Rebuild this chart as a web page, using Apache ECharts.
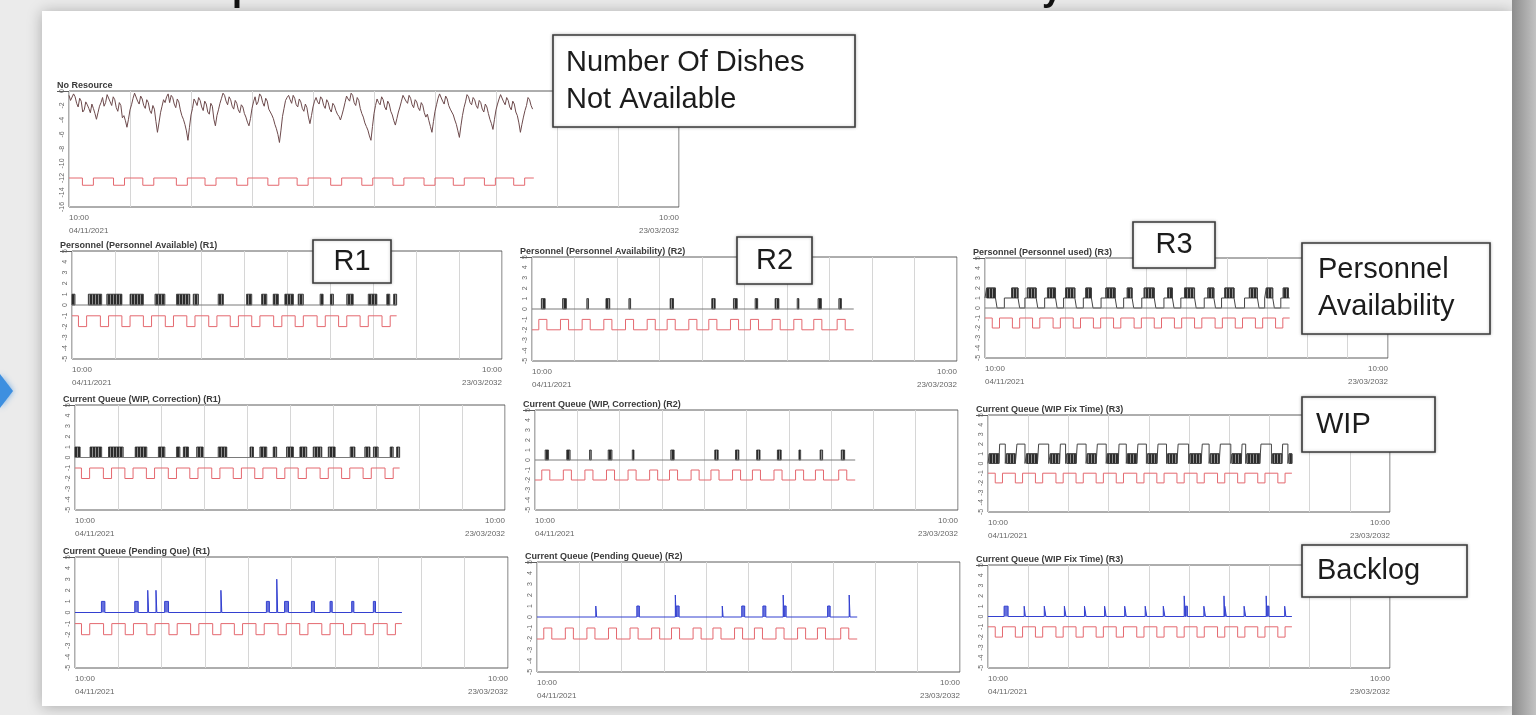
<!DOCTYPE html>
<html>
<head>
<meta charset="utf-8">
<script src="https://cdn.jsdelivr.net/npm/echarts/dist/echarts.min.js"></script>
<style>
html,body{margin:0;padding:0;background:#ebebeb;overflow:hidden;}
#c{width:1536px;height:715px;}
</style>
</head>
<body>
<div id="c"></div>
<script>
// ---------------- DATA ----------------
const chartTitles = [
  'No Resource',
  'Personnel (Personnel Available) (R1)',
  'Personnel (Personnel Availability) (R2)',
  'Personnel (Personnel used) (R3)',
  'Current Queue (WIP, Correction) (R1)',
  'Current Queue (WIP, Correction) (R2)',
  'Current Queue (WIP Fix Time) (R3)',
  'Current Queue (Pending Que) (R1)',
  'Current Queue (Pending Queue) (R2)',
  'Current Queue (WIP Fix Time) (R3)'
];
const xStartLabel = '10:00\n04/11/2021';
const xEndLabel = '10:00\n23/03/2032';
const annotationTexts = ['Number Of Dishes\nNot Available', 'R1', 'R2', 'R3', 'Personnel\nAvailability', 'WIP', 'Backlog'];
const headingFragments = ['p', 'y'];

// "No Resource" dark trace, one value every 0.25 time units from 0
const noResourceStep = 0.25;
const noResource = [
  -0.6,-1.3,-1.5,-0.4,-0.8,-1.7,-2.2,-1.0,-1.4,-2.9,-2.6,-1.5,-1.9,-2.4,-3.0,-1.8,-2.4,-3.1,-3.9,
  -3.0,-2.1,-1.6,-0.9,-2.1,-1.6,-0.5,-0.7,-1.5,-2.0,-0.8,-1.2,-2.3,-2.8,-1.6,-2.0,-3.7,-3.4,-4.1,-5.0,
  -3.9,-2.6,-1.9,-1.0,-0.3,-0.5,-1.4,-1.8,-0.7,-1.1,-2.0,-2.4,-1.2,-1.6,-2.7,-3.1,-2.0,-2.5,-4.2,-5.7,
  -4.4,-3.0,-2.1,-1.2,-1.6,-0.8,-0.4,-1.6,-0.6,-0.9,-1.8,-2.3,-1.1,-1.5,-2.6,-3.4,-3.9,-4.6,-5.5,-6.8,
  -5.0,-3.3,-2.4,-1.1,-1.5,-2.0,-0.9,-1.3,-2.2,-2.7,-1.4,-1.8,-2.9,-3.2,-1.7,-2.1,-3.9,-4.8,-3.4,-2.6,
  -1.7,-1.0,-0.3,-0.6,-1.4,-1.9,-0.8,-1.2,-2.1,-2.5,-1.3,-1.7,-2.6,-3.0,-1.9,-2.2,-3.1,-3.6,-4.3,-4.8,
  -3.8,-2.4,-1.5,-0.8,-1.9,-1.5,-0.4,-0.7,-1.6,-2.1,-1.0,-1.4,-2.5,-2.9,-3.3,-3.8,-4.6,-5.2,-6.0,-7.1,
  -5.4,-3.5,-2.4,-1.3,-0.9,-0.6,-1.2,-1.7,-0.6,-1.0,-1.9,-2.2,-1.1,-1.5,-2.4,-2.8,-1.8,-2.3,-3.6,-4.5,
  -3.4,-2.2,-1.4,-0.9,-1.5,-1.8,-0.8,-1.1,-2.0,-2.4,-1.2,-1.6,-2.5,-2.9,-1.7,-2.0,-2.7,-3.2,-3.5,-4.0,
  -3.3,-2.5,-1.6,-0.7,-1.1,-1.4,-0.3,-0.6,-1.6,-2.0,-0.9,-1.3,-2.4,-3.1,-3.6,-4.4,-4.9,-5.4,-6.2,-6.8,
  -4.9,-3.1,-2.0,-1.1,-1.6,-1.9,-0.8,-1.2,-2.2,-2.6,-1.4,-1.8,-2.8,-3.3,-4.1,-4.7,-3.8,-2.9,-2.2,-1.4,
  -0.6,-0.8,-1.4,-1.7,-0.6,-1.0,-1.9,-2.3,-1.2,-1.5,-2.3,-2.7,-1.6,-2.0,-3.0,-3.6,-3.2,-4.1,-4.9,-5.7,
  -4.2,-2.8,-1.9,-1.0,-0.4,-0.6,-1.4,-1.8,-0.7,-1.1,-2.0,-2.5,-2.9,-3.3,-4.0,-4.6,-5.5,-6.4,-4.8,-3.4,
  -2.3,-1.5,-0.5,-0.8,-1.6,-1.9,-0.9,-1.2,-2.0,-2.4,-1.3,-1.6,-2.5,-2.9,-1.8,-2.2,-3.1,-3.9,-4.5,-5.3,
  -3.9,-2.6,-1.8,-1.1,-0.5,-0.7,-1.5,-1.9,-0.9,-1.3,-2.2,-2.6,-1.4,-1.8,-2.9,-3.4,-4.4,-5.7,-4.6,-3.6,
  -2.7,-2.0,-0.9,-1.2,-2.0,-2.5
];

// red shift signal: [start, end] of each dip / pulse
const topRedDips = [[2.2,4.0],[7.3,9.1],[12.1,13.9],[17.6,19.4],[22.3,24.1],[27.5,29.3],[32.6,34.4],[37.4,39.2],[42.9,44.7],[48.0,49.8],[53.1,54.9],[58.2,60.0],[63.0,64.8],[68.1,69.9],[72.9,74.7]];
const topRedLevels = [-12, -13];
const r1RedDips = [[1.5,3.4],[6.6,8.5],[11.6,13.5],[16.6,18.5],[21.7,23.6],[26.7,28.6],[31.8,33.7],[36.8,38.7],[41.8,43.7],[46.9,48.8],[51.9,53.8],[57.0,58.9],[62.0,63.9],[67.0,68.9],[72.1,74.0]];
const r2RedPulses = [[1.6,3.5],[6.7,8.6],[11.8,13.7],[16.9,18.8],[22.0,23.9],[27.1,29.0],[31.8,33.7],[36.9,38.8],[41.6,43.5],[46.7,48.6],[51.4,53.3],[56.5,58.4],[61.6,63.5],[66.3,68.2],[71.8,73.7]];
const r3RedDips = [[1.8,3.6],[6.8,8.6],[11.8,13.6],[16.9,18.7],[21.9,23.7],[26.9,28.7],[31.9,33.7],[37.0,38.8],[42.0,43.8],[47.0,48.8],[52.0,53.8],[57.1,58.9],[62.1,63.9],[67.1,68.9],[72.1,73.9]];
const redLevelsDip = [-1, -2];    // base, dip
const redLevelsPulse = [-2, -1];  // base, pulse

// time at which each trace stops
const dataEnd = {top: 76.2, r1: 75.5, r2: 75.7, r3: 75.6};

// black busy blocks (value 1) : [start, end]
const r1PersonnelBlocks = [[0,0.7],[3.8,6.9],[8.1,11.6],[13.5,16.6],[19.3,21.6],[24.3,27.4],[28.2,29.4],[34.0,35.2],[40.6,41.8],[44.1,45.3],[46.8,48.0],[49.5,51.5],[52.6,53.8],[57.7,58.4],[60.1,60.8],[63.9,65.4],[68.9,70.9],[73.2,73.9],[74.8,75.5]];
const r1WipBlocks = [[0,1.2],[3.5,6.2],[7.8,11.2],[14.0,16.7],[19.4,20.9],[23.6,24.4],[25.2,26.4],[28.3,29.8],[33.3,35.3],[40.7,41.5],[43.0,44.6],[46.1,46.9],[49.2,50.8],[52.3,53.9],[55.4,57.4],[58.9,60.5],[64.0,65.1],[67.4,68.6],[69.4,70.5],[73.3,74.0],[74.8,75.5]];
const r2PersonnelBlocks = [[2.2,3.1],[7.2,8.1],[12.9,13.3],[17.4,18.3],[22.8,23.2],[32.5,33.3],[42.3,43.1],[47.4,48.3],[52.5,53.1],[57.2,58.1],[62.4,62.8],[67.3,68.1],[72.2,72.8]];
const r2WipBlocks = [[2.4,3.2],[7.5,8.3],[12.9,13.3],[17.3,18.2],[23.0,23.4],[32.1,32.9],[42.5,43.3],[47.4,48.2],[52.4,53.2],[57.3,58.2],[62.4,62.8],[67.4,68.0],[72.4,73.2]];

// R3 personnel: dark bands between 1 and 2, drops to 0 after them
const r3PersonnelBands = [[0.4,2.6],[6.6,8.2],[10.5,12.7],[15.5,17.5],[20.0,22.3],[25.0,26.4],[30.0,32.3],[35.3,36.5],[39.5,42.0],[45.3,46.5],[49.5,52.0],[55.3,56.8],[59.5,61.8],[65.6,67.6],[69.8,71.4],[74.0,75.3]];
const r3PersonnelDrops = [[3.0,4.8],[8.6,9.9],[13.1,14.8],[17.9,19.5],[22.7,24.4],[26.8,28.8],[32.7,34.4],[36.9,38.9],[42.4,44.4],[46.9,48.6],[52.4,54.4],[57.2,58.7],[62.2,64.4],[68.0,69.4],[71.8,73.4]];
// R3 WIP: dark bands between 0 and 1, pulses up to 2
const r3WipBands = [[0.3,2.7],[4.6,6.8],[9.6,12.3],[15.5,17.8],[19.6,21.9],[24.7,26.9],[29.7,32.4],[34.7,37.0],[39.7,42.0],[44.7,47.0],[50.2,53.0],[55.3,57.5],[60.7,63.0],[64.4,67.6],[70.8,73.1],[74.9,75.6]];
const r3WipPulses = [[2.9,4.3],[7.2,9.2],[12.6,15.1],[18.0,19.3],[22.2,24.4],[27.2,29.4],[32.6,34.4],[37.3,39.4],[42.3,44.4],[47.3,49.9],[53.3,55.0],[57.8,60.4],[63.2,64.1],[67.9,70.5],[73.3,74.6]];

// blue backlog spikes: [start, end, height]
const r1Backlog = [[6.1,6.9,1],[13.8,14.6,1],[16.8,17.0,2],[18.7,18.9,2],[20.7,21.6,1],[33.7,33.9,2],[44.2,44.9,1],[46.6,46.8,3],[48.4,49.3,1],[54.6,55.3,1],[58.9,59.4,1],[63.9,64.4,1],[68.9,69.4,1]];
const r2Backlog = [[13.9,14.1,1],[23.6,24.2,1],[32.7,32.9,2],[32.9,33.6,1],[43.8,44.0,1],[48.4,49.1,1],[53.4,54.1,1],[58.2,58.4,2],[58.4,58.9,1],[68.7,69.3,1],[73.8,74.0,2]];
const r3Backlog = [[4.0,5.0,1],[9.0,9.3,1],[14.0,14.4,1],[19.0,19.4,1],[24.0,24.4,1],[29.0,29.4,1],[34.0,34.4,1],[39.1,39.5,1],[43.6,44.0,1],[48.8,49.1,2],[49.1,49.6,1],[53.7,54.1,1],[58.7,58.9,2],[58.9,59.3,1],[63.7,64.1,1],[69.2,69.4,2],[69.4,69.9,1],[73.8,74.1,1]];

// ---------------- LAYOUT / STYLE ----------------
const panels = [
  {left:69,  top:91,  width:610, height:116, yMin:-16, yMax:0, yInt:2},
  {left:72,  top:251, width:430, height:108, yMin:-5, yMax:5, yInt:1},
  {left:532, top:257, width:425, height:104, yMin:-5, yMax:5, yInt:1},
  {left:985, top:258, width:403, height:100, yMin:-5, yMax:5, yInt:1},
  {left:75,  top:405, width:430, height:105, yMin:-5, yMax:5, yInt:1},
  {left:535, top:410, width:423, height:100, yMin:-5, yMax:5, yInt:1},
  {left:988, top:415, width:402, height:97,  yMin:-5, yMax:5, yInt:1},
  {left:75,  top:557, width:433, height:111, yMin:-5, yMax:5, yInt:1},
  {left:537, top:562, width:423, height:110, yMin:-5, yMax:5, yInt:1},
  {left:988, top:565, width:402, height:103, yMin:-5, yMax:5, yInt:1}
];
const RED = '#e4686f', BLUE = '#3340d0', ZERO = '#7a7a7a';
const FONT = '"Liberation Sans", Arial, sans-serif';

// hatched fill for the dense busy blocks
const hatch = document.createElement('canvas');
hatch.width = 3; hatch.height = 2;
(function () {
  const g = hatch.getContext('2d');
  g.fillStyle = '#2c2c2c'; g.fillRect(0, 0, 3, 2);
  g.fillStyle = '#8e8e8e'; g.fillRect(2, 0, 1, 2);
})();
const DARK = {image: hatch, repeat: 'repeat'};

// ---------------- helpers ----------------
function redPoints(dips, levels, end) {
  const [base, alt] = levels;
  const pts = [[0, base]];
  dips.forEach(d => { pts.push([d[0], base], [d[0], alt], [d[1], alt], [d[1], base]); });
  pts.push([end, base]);
  return pts;
}
function levelTrace(segs, base, end) {
  const s = segs.slice().sort((a, b) => a[0] - b[0]);
  const pts = [[0, base]];
  s.forEach(g => { pts.push([g[0], base], [g[0], g[2]], [g[1], g[2]], [g[1], base]); });
  pts.push([end, base]);
  return pts;
}
function lineSeries(i, data, color, width, area) {
  const s = {
    type: 'line', xAxisIndex: i, yAxisIndex: i, data: data, showSymbol: false, symbol: 'none',
    lineStyle: {color: color, width: width || 1}, silent: true, animation: false, z: 3
  };
  if (area) s.areaStyle = {color: color, opacity: area, origin: 0};
  return s;
}
function bandSeries(i, bands, y0, y1, fill) {
  return {
    type: 'custom', xAxisIndex: i, yAxisIndex: i, silent: true, animation: false, z: 2,
    data: bands.map(b => [b[0], b[1], y0, y1]),
    encode: {x: [0, 1], y: [2, 3]},
    renderItem: function (params, api) {
      const a = api.coord([api.value(0), api.value(3)]);
      const b = api.coord([api.value(1), api.value(2)]);
      return {type: 'rect', shape: {x: a[0], y: a[1], width: Math.max(1, b[0] - a[0]), height: b[1] - a[1]},
              style: {fill: fill, stroke: '#2c2c2c', lineWidth: 0.8}};
    }
  };
}

// ---------------- build option ----------------
const grid = [], xAxis = [], yAxis = [], series = [];
panels.forEach((p, i) => {
  grid.push({left: p.left, top: p.top, width: p.width, height: p.height, show: true,
             backgroundColor: '#ffffff', borderColor: '#5c5c5c', borderWidth: 1,
             containLabel: false, outerBoundsMode: 'none'});
  xAxis.push({
    gridIndex: i, type: 'value', min: 0, max: 100, interval: 10,
    axisLine: {show: false}, axisTick: {show: false},
    splitLine: {show: true, lineStyle: {color: '#d6d6d6', width: 1}},
    axisLabel: {
      show: true, fontSize: 8, color: '#666', lineHeight: 13, margin: 4, fontFamily: FONT,
      showMinLabel: true, showMaxLabel: true, alignMinLabel: 'left', alignMaxLabel: 'right',
      formatter: v => v === 0 ? xStartLabel : (v === 100 ? xEndLabel : '')
    }
  });
  yAxis.push({
    gridIndex: i, type: 'value', min: p.yMin, max: p.yMax, interval: p.yInt,
    axisLine: {show: false}, axisTick: {show: false}, splitLine: {show: false},
    axisLabel: {fontSize: 7, color: '#666', rotate: 90, margin: 3, fontFamily: FONT}
  });
});

// 0 : No Resource
series.push(lineSeries(0, noResource.map((v, k) => [k * noResourceStep, v]), '#6d4a4c', 1));
series.push(lineSeries(0, redPoints(topRedDips, topRedLevels, dataEnd.top), RED, 1));
// 1 : R1 personnel
series.push(bandSeries(1, r1PersonnelBlocks, 0, 1, DARK));
series.push(lineSeries(1, [[0, 0], [dataEnd.r1, 0]], ZERO, 1));
series.push(lineSeries(1, redPoints(r1RedDips, redLevelsDip, dataEnd.r1), RED, 1));
// 2 : R2 personnel
series.push(bandSeries(2, r2PersonnelBlocks, 0, 1, DARK));
series.push(lineSeries(2, [[0, 0], [dataEnd.r2, 0]], ZERO, 1));
series.push(lineSeries(2, redPoints(r2RedPulses, redLevelsPulse, dataEnd.r2), RED, 1));
// 3 : R3 personnel
series.push(bandSeries(3, r3PersonnelBands, 1, 2, DARK));
series.push(lineSeries(3, levelTrace(
  r3PersonnelBands.map(b => [b[0], b[1], 2]).concat(r3PersonnelDrops.map(d => [d[0], d[1], 0])), 1, dataEnd.r3), '#444', 1));
series.push(lineSeries(3, [[0, 0], [dataEnd.r3, 0]], ZERO, 1));
series.push(lineSeries(3, redPoints(r3RedDips, redLevelsDip, dataEnd.r3), RED, 1));
// 4 : R1 WIP
series.push(bandSeries(4, r1WipBlocks, 0, 1, DARK));
series.push(lineSeries(4, [[0, 0], [dataEnd.r1, 0]], ZERO, 1));
series.push(lineSeries(4, redPoints(r1RedDips, redLevelsDip, dataEnd.r1), RED, 1));
// 5 : R2 WIP
series.push(bandSeries(5, r2WipBlocks, 0, 1, DARK));
series.push(lineSeries(5, [[0, 0], [dataEnd.r2, 0]], ZERO, 1));
series.push(lineSeries(5, redPoints(r2RedPulses, redLevelsPulse, dataEnd.r2), RED, 1));
// 6 : R3 WIP
series.push(bandSeries(6, r3WipBands, 0, 1, DARK));
series.push(lineSeries(6, levelTrace(
  r3WipBands.map(b => [b[0], b[1], 1]).concat(r3WipPulses.map(d => [d[0], d[1], 2])), 0, dataEnd.r3), '#444', 1));
series.push(lineSeries(6, redPoints(r3RedDips, redLevelsDip, dataEnd.r3), RED, 1));
// 7..9 : backlog
series.push(lineSeries(7, levelTrace(r1Backlog, 0, dataEnd.r1), BLUE, 1, 0.75));
series.push(lineSeries(7, redPoints(r1RedDips, redLevelsDip, dataEnd.r1), RED, 1));
series.push(lineSeries(8, levelTrace(r2Backlog, 0, dataEnd.r2), BLUE, 1, 0.75));
series.push(lineSeries(8, redPoints(r2RedPulses, redLevelsPulse, dataEnd.r2), RED, 1));
series.push(lineSeries(9, levelTrace(r3Backlog, 0, dataEnd.r3), BLUE, 1, 0.75));
series.push(lineSeries(9, redPoints(r3RedDips, redLevelsDip, dataEnd.r3), RED, 1));

// ---------------- graphics: slide frame, titles, annotation boxes ----------------
const graphic = [];
graphic.push({type: 'rect', z: -20, shape: {x: 0, y: 0, width: 1536, height: 715}, style: {fill: '#ebebeb'}});
graphic.push({type: 'rect', z: -19, shape: {x: 42, y: 11, width: 1470, height: 695},
  style: {fill: '#ffffff', shadowBlur: 14, shadowColor: 'rgba(0,0,0,0.28)', shadowOffsetX: 0, shadowOffsetY: 1}});
graphic.push({type: 'rect', z: -18, shape: {x: 1512, y: 0, width: 24, height: 715},
  style: {fill: new echarts.graphic.LinearGradient(0, 0, 1, 0, [{offset: 0, color: '#8d8d8d'}, {offset: 1, color: '#c2c2c2'}])}});
graphic.push({type: 'polygon', z: -17, shape: {points: [[0, 374], [13, 391], [0, 408]]},
  style: {fill: '#3d8fe0', shadowBlur: 6, shadowColor: 'rgba(61,143,224,0.7)'}});
graphic.push({type: 'text', z: -16, x: 232, y: 8, style: {text: headingFragments[0], font: 'bold 36px ' + FONT, fill: '#111', verticalAlign: 'bottom'}});
graphic.push({type: 'text', z: -16, x: 1042, y: 8, style: {text: headingFragments[1], font: 'bold 36px ' + FONT, fill: '#111', verticalAlign: 'bottom'}});

panels.forEach((p, i) => {
  const tx = p.left - 12;
  graphic.push({type: 'text', z: 10, x: tx, y: p.top - 1,
    style: {text: chartTitles[i], font: 'bold 9px ' + FONT, fill: '#3a3a3a', verticalAlign: 'bottom'}});
  graphic.push({type: 'line', z: 10, shape: {x1: tx, y1: p.top + 0.5, x2: p.left, y2: p.top + 0.5},
    style: {stroke: '#5c5c5c', lineWidth: 1}});
});

const boxes = [
  {x: 553, y: 35, w: 302, h: 92, align: 'left', tx: 566},
  {x: 313, y: 240, w: 78, h: 43, align: 'center'},
  {x: 737, y: 237, w: 75, h: 47, align: 'center'},
  {x: 1133, y: 222, w: 82, h: 46, align: 'center'},
  {x: 1302, y: 243, w: 188, h: 91, align: 'left', tx: 1318},
  {x: 1302, y: 397, w: 133, h: 55, align: 'left', tx: 1316},
  {x: 1302, y: 545, w: 165, h: 52, align: 'left', tx: 1317}
];
boxes.forEach((b, i) => {
  graphic.push({type: 'rect', z: 50, shape: {x: b.x, y: b.y, width: b.w, height: b.h},
    style: {fill: '#ffffff', stroke: '#3a3a3a', lineWidth: 1.6, shadowBlur: 3, shadowColor: 'rgba(0,0,0,0.25)'}});
  graphic.push({type: 'text', z: 51,
    x: b.align === 'center' ? b.x + b.w / 2 : b.tx, y: b.y + b.h / 2,
    style: {text: annotationTexts[i], font: '29px ' + FONT, fill: '#1c1c1c', lineHeight: 37,
            align: b.align, verticalAlign: 'middle'}});
});

const chart = echarts.init(document.getElementById('c'), null, {renderer: 'canvas', width: 1536, height: 715});
chart.setOption({
  animation: false,
  backgroundColor: 'transparent',
  textStyle: {fontFamily: FONT},
  grid: grid, xAxis: xAxis, yAxis: yAxis, series: series, graphic: graphic
});
</script>
</body>
</html>
